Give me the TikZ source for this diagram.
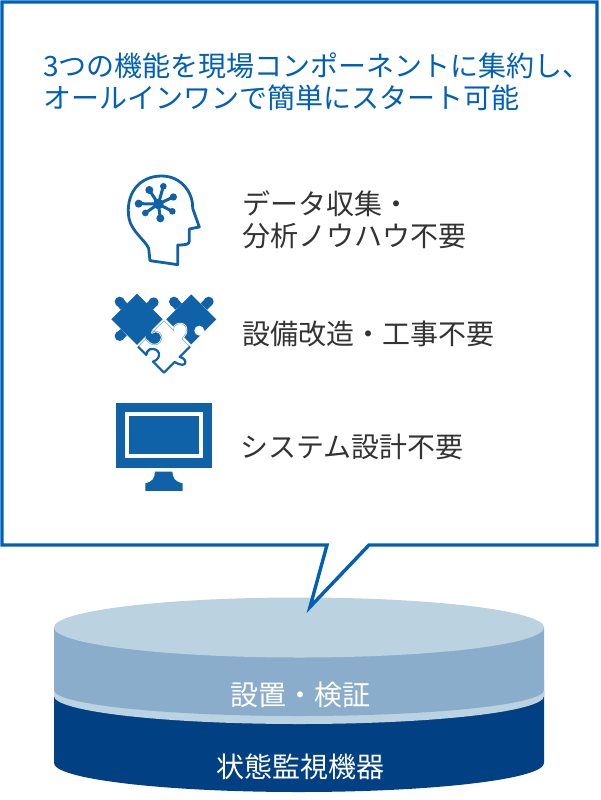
\documentclass[tikz,border=0pt]{standalone}
\usepackage{fontspec}
\newfontfamily\cjk{Noto Sans CJK JP}
\definecolor{frameblue}{HTML}{0060B8}
\definecolor{iconblue}{HTML}{1062A8}
\definecolor{diskTop}{HTML}{BBD2E1}
\definecolor{diskMid}{HTML}{8AADCB}
\definecolor{diskLow}{HTML}{004083}
\definecolor{textgray}{HTML}{333333}
\tikzset{
 x=1pt,y=-1pt,
 lbl/.style={inner sep=0pt,anchor=west,align=left,font=\cjk\fontsize{28}{32}\selectfont,text=textgray},
 ttl/.style={lbl,text=frameblue,font=\cjk\fontsize{28}{32}\selectfont},
 disklbl/.style={inner sep=0pt,anchor=center,text=white,font=\cjk\fontsize{28}{33}\selectfont},
 ico/.style={iconblue,line width=2.8pt,line join=round,line cap=round}
}
\begin{document}
\begin{tikzpicture}
\useasboundingbox (0,0) rectangle (600,800);
\fill[white] (0,0) rectangle (600,800);
% disks
\fill[diskLow] (54,690) -- (54,763) arc[start angle=180,end angle=0,x radius=245,y radius=29] -- (544,690) -- cycle;
\fill[diskTop] (54,680) -- (54,696) arc[start angle=180,end angle=0,x radius=245,y radius=28] -- (544,680) -- cycle;
\fill[diskMid] (54,628) -- (54,690) arc[start angle=180,end angle=0,x radius=245,y radius=26] -- (544,628) -- cycle;
\fill[diskTop] (299,627.5) ellipse[x radius=245,y radius=30];
% balloon
\draw[frameblue,line width=3.4pt,line join=miter,fill=white] (2,2) -- (597,2) -- (597,545) -- (369,545) -- (310,607) -- (327,545) -- (2,545) -- cycle;
% texts
\node[ttl] (title) at (43,82) {3つの機能を現場コンポーネントに集約し、\\オールインワンで簡単にスタート可能};
\node[lbl] (a) at (242,220) {データ収集・\\分析ノウハウ不要};
\node[lbl] (b) at (242,334) {設備改造・工事不要};
\node[lbl] (c) at (240,447) {システム設計不要};
\node[disklbl] (d) at (300.5,695) {設置・検証};
\node[disklbl] (e) at (300.5,767) {状態監視機器};
% head icon
\begin{scope}[shift={(100,165)},x=0.3333pt,y=-0.3333pt]
\draw[ico] (150,287) -- (146,250) .. controls (135,225) and (95,200) .. (87,160) .. controls (75,90) and (115,33) .. (185,33) .. controls (245,33) and (280,85) .. (278,130) -- (298,186) -- (268,192) -- (268,228) .. controls (268,238) and (258,240) .. (233,240) -- (233,299) -- cycle;
\coordinate (hc) at (175,117);
\foreach \p/\r in {{148,75}/12,{190,64}/10,{220,96}/11,{217,139}/10,{181,160}/12,{136,144}/10,{116,116}/12}{
 \draw[iconblue,line width=3pt] (hc) -- (\p);
 \fill[iconblue] (\p) circle[radius=\r];
}
\fill[iconblue] (hc) circle[radius=16];
\end{scope}
% puzzle icon
\begin{scope}[shift={(108,290)},x=0.3333pt,y=-0.3333pt]
\fill[iconblue] (10,88) -- (87,11) -- (164,88) -- (87,165) -- cycle;
\fill[iconblue] (175,88) -- (250,13) -- (325,88) -- (250,163) -- cycle;
\foreach \a/\b/\c/\d in {48/50/35/35, 125/50/137/37, 48/127/35/138, 212/50/198/35, 288/50/302/35}{
 \draw[iconblue,line width=9pt] (\a,\b) -- (\c,\d);
 \fill[iconblue] (\c,\d) circle[radius=15];
}
\fill[white] (274,122) circle[radius=15];
\draw[white,line width=5pt] (274,122) -- (295,135);
\fill[iconblue] (138,146) circle[radius=26];
\fill[white] (90,170) -- (112,148) .. controls (125,165) and (150,175) .. (160,150) .. controls (168,130) and (145,115) .. (132,128) -- (168,92) -- (198,122) .. controls (190,100) and (235,90) .. (235,120) .. controls (237,135) and (225,135) .. (222,146) -- (246,170) -- (215,201) .. controls (240,205) and (240,240) .. (200,216) -- (168,248) -- (135,215) .. controls (165,205) and (155,170) .. (125,178) .. controls (118,182) and (116,188) .. (115,195) -- cycle;
\draw[white,line width=2pt,line join=round] (90,170) -- (112,148) .. controls (125,165) and (150,175) .. (160,150) .. controls (168,130) and (145,115) .. (132,128) -- (168,92) -- (198,122) .. controls (190,100) and (235,90) .. (235,120) .. controls (237,135) and (225,135) .. (222,146) -- (246,170);
\draw[iconblue!60,line width=0.5pt,line join=round] (90,170) -- (112,148) .. controls (125,165) and (150,175) .. (160,150) .. controls (168,130) and (145,115) .. (132,128) -- (168,92) -- (198,122) .. controls (190,100) and (235,90) .. (235,120) .. controls (237,135) and (225,135) .. (222,146) -- (246,170);
\draw[iconblue,line width=2.2pt,line join=round] (246,170) -- (215,201) .. controls (240,205) and (240,240) .. (200,216) -- (168,248) -- (135,215) .. controls (165,205) and (155,170) .. (125,178) .. controls (118,182) and (116,188) .. (115,195) -- (90,170);
\end{scope}
% monitor icon
\begin{scope}[shift={(100,285)},x=0.3333pt,y=-0.3333pt]
\fill[iconblue] (48,354) rectangle (336,548);
\draw[white,line width=4pt] (82,388) rectangle (302,513);
\fill[iconblue] (165,560) -- (217,560) .. controls (218,580) and (225,590) .. (248,595) -- (248,618) -- (136,618) -- (136,595) .. controls (158,590) and (164,580) .. (165,560) -- cycle;
\end{scope}
\end{tikzpicture}
\end{document}
